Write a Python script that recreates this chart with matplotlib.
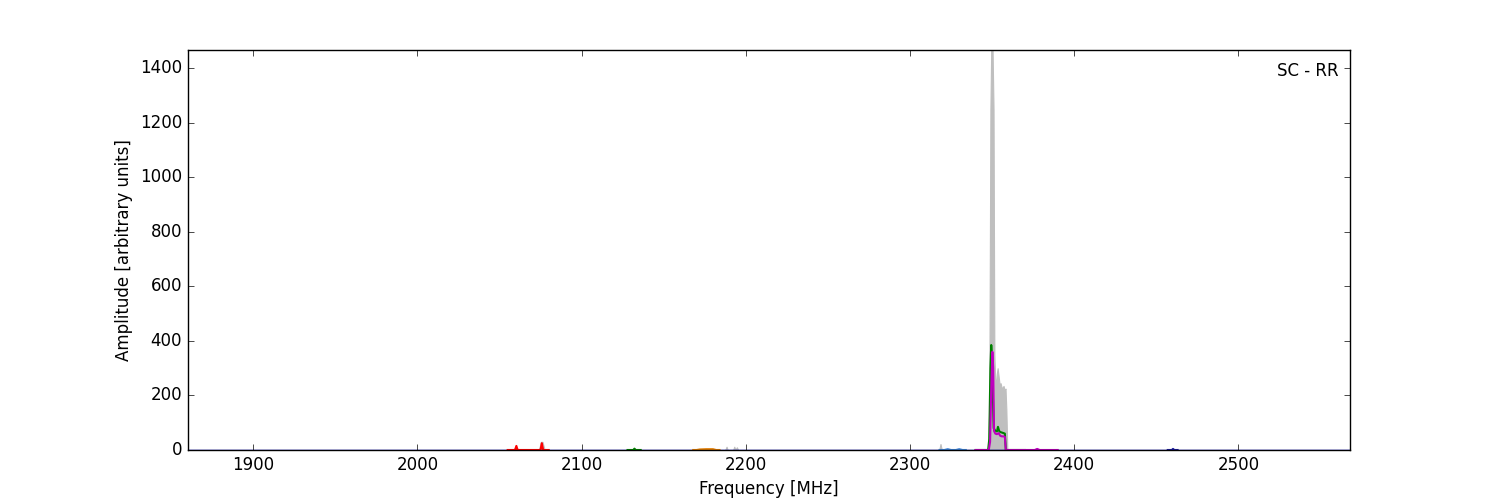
import numpy as np
import matplotlib
matplotlib.use("Agg")
from matplotlib import pyplot as plt

plt.style.use('classic')

# grey envelope (filled)
grey_f = [1860, 2058, 2059.5, 2060.5, 2062, 2074, 2075.2, 2076.2, 2077.5, 2187.5, 2188.3, 2189, 2192.3,
          2193, 2193.7, 2194.6, 2195.3, 2196, 2317.8, 2318.6, 2319.4, 2320.5, 2346, 2347.5, 2348.3,
          2349.0, 2349.5, 2350.3, 2350.9, 2351.4, 2351.9, 2352.4, 2352.9, 2353.4, 2354, 2354.6,
          2355.2, 2356, 2357, 2357.6, 2358.2, 2358.7, 2359.3, 2568]
grey_a = [0, 0, 8, 8, 0, 0, 30, 30, 0, 0, 12, 0, 0, 12, 0, 10, 0, 0, 0, 22, 0, 0, 0, 5, 150,
          1250, 1470, 1470, 1250, 350, 260, 240, 280, 300, 270, 240, 245, 225, 235, 220, 225, 150, 0, 0]

# main channel traces
green_f = [2340, 2347.6, 2348.3, 2349.0, 2349.5, 2350.0, 2350.5, 2351.0, 2352.0, 2353.0, 2353.6,
           2354.3, 2355.0, 2356.0, 2357.0, 2357.8, 2358.4, 2370]
green_a = [0, 0, 40, 300, 385, 340, 200, 80, 70, 68, 85, 70, 66, 64, 62, 60, 0, 0]

magenta_f = [2340, 2348.0, 2348.8, 2349.6, 2350.2, 2350.7, 2351.2, 2352.0, 2353.0, 2354.0,
             2355.0, 2356.0, 2357.0, 2357.8, 2358.4, 2376, 2377.5, 2379, 2390]
magenta_a = [0, 0, 30, 250, 360, 300, 70, 60, 58, 62, 52, 50, 50, 48, 0, 0, 4, 0, 0]

# small features in other bands
red_f = [2055, 2059.5, 2060.3, 2061, 2075, 2075.8, 2076.6, 2080]
red_a = [0, 0, 15, 0, 0, 25, 0, 0]

green2_f = [2128, 2131.5, 2132.2, 2133, 2136]
green2_a = [0, 0, 5, 0, 0]

orange_f = [2168, 2170, 2172, 2176, 2180, 2182, 2184]
orange_a = [0, 0, 2, 3, 3, 0, 0]

blue_f = [2318, 2321, 2323, 2325, 2328, 2330, 2332, 2334]
blue_a = [0, 0, 3, 0, 0, 3, 0, 0]

navy_f = [2457, 2459.5, 2460.2, 2461, 2463]
navy_a = [0, 0, 4, 0, 0]

base_f = [1860, 2568]
base_a = [0, 0]

fig = plt.figure(figsize=(15, 5), dpi=100)
ax = fig.add_subplot(111)

ax.fill_between(grey_f, grey_a, 0, color='0.75', edgecolor='0.75', linewidth=0.8)
ax.plot(base_f, base_a, color='b', linewidth=1.0)
ax.plot(red_f, red_a, color='r', linewidth=1.5)
ax.plot(green2_f, green2_a, color='g', linewidth=1.5)
ax.plot(orange_f, orange_a, color='#e07b00', linewidth=1.5)
ax.plot(blue_f, blue_a, color='#3a7fd5', linewidth=1.5)
ax.plot(navy_f, navy_a, color='#1a1a9a', linewidth=1.5)
ax.plot(green_f, green_a, color='g', linewidth=1.5)
ax.plot(magenta_f, magenta_a, color='m', linewidth=1.5)

ax.set_xlim(1860, 2568)
ax.set_ylim(0, 1467)
ax.set_xlabel('Frequency [MHz]')
ax.set_ylabel('Amplitude [arbitrary units]')
ax.text(0.99, 0.97, 'SC - RR', transform=ax.transAxes, ha='right', va='top', fontsize=12)

plt.savefig('out.png', dpi=100)
